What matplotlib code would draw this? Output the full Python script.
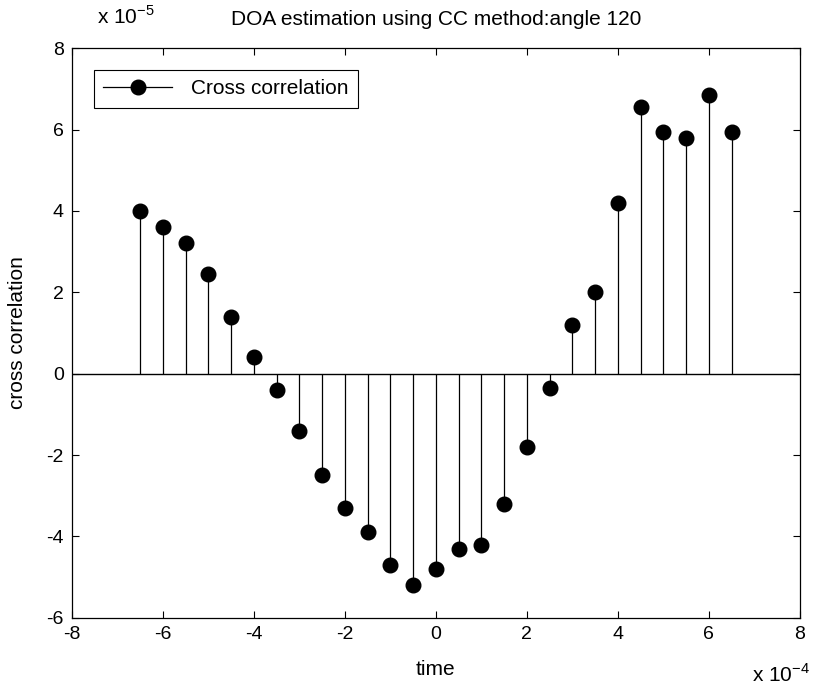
"""
DOA estimation - cross correlation stem plot (MATLAB style)
"""
import matplotlib
matplotlib.use('Agg')
import matplotlib.pyplot as plt
from matplotlib.legend_handler import HandlerLine2D
from matplotlib.lines import Line2D
import numpy as np

plt.rcParams['font.family'] = ['Liberation Sans', 'DejaVu Sans']

# time in units of 1e-4 s
time_e4 = [-6.5, -6.0, -5.5, -5.0, -4.5, -4.0, -3.5, -3.0, -2.5, -2.0, -1.5, -1.0, -0.5,
           0.0, 0.5, 1.0, 1.5, 2.0, 2.5, 3.0, 3.5, 4.0, 4.5, 5.0, 5.5, 6.0, 6.5]
# cross correlation in units of 1e-5
cc_e5 = [4.0, 3.6, 3.2, 2.45, 1.4, 0.4, -0.4, -1.4, -2.5, -3.3, -3.9, -4.7, -5.2,
         -4.8, -4.3, -4.2, -3.2, -1.8, -0.35, 1.2, 2.0, 4.2, 6.55, 5.95, 5.8, 6.85, 5.95]

xticks = [-8, -6, -4, -2, 0, 2, 4, 6, 8]
yticks = [-6, -4, -2, 0, 2, 4, 6, 8]


class EndMarker(HandlerLine2D):
    # marker at the right end of the legend line, like matlab stem legend
    def get_xdata(self, legend, xdescent, ydescent, width, height, fontsize):
        xdata, _ = super().get_xdata(legend, xdescent, ydescent, width, height, fontsize)
        return xdata, [xdata[-1] - 0.08 * width]


fig = plt.figure(figsize=(8.14, 6.88), dpi=100)
ax = fig.add_axes([0.0885, 0.102, 0.894, 0.828])

ax.vlines(time_e4, 0, cc_e5, colors='k', linewidth=0.9)
ax.plot(time_e4, cc_e5, 'o', color='k', markersize=10.5, linestyle='none')
ax.axhline(0, color='k', linewidth=1.0)

ax.set_xlim(-8, 8)
ax.set_ylim(-6, 8)
ax.set_xticks(xticks)
ax.set_yticks(yticks)
ax.set_xticklabels([str(t) for t in xticks])
ax.set_yticklabels([str(t) for t in yticks])
ax.tick_params(direction='in', top=True, right=True, length=5, width=0.8,
               labelsize=14, pad=6)
for s in ax.spines.values():
    s.set_linewidth(0.9)

ax.text(0.5, 1.05, 'DOA estimation using CC method:angle 120', transform=ax.transAxes,
        fontsize=15, ha='center', va='center')
ax.set_xlabel('time', fontsize=15)
ax.xaxis.set_label_coords(0.5, -0.074)
ax.set_ylabel('cross correlation', fontsize=15)
ax.yaxis.set_label_coords(-0.062, 0.5)

ax.text(0.034, 1.042, r'x 10$^{\mathregular{-5}}$', transform=ax.transAxes,
        fontsize=15, ha='left', va='baseline')
ax.text(1.014, -0.112, r'x 10$^{\mathregular{-4}}$', transform=ax.transAxes,
        fontsize=15, ha='right', va='baseline')

handle = Line2D([], [], color='k', marker='o', markersize=10.5, linewidth=0.9)
leg = ax.legend([handle], ['Cross correlation'], loc='upper left',
                handler_map={Line2D: EndMarker(numpoints=1)},
                fontsize=15, handlelength=3.3, handletextpad=0.9, fancybox=False,
                framealpha=1, edgecolor='k', borderaxespad=1.05, borderpad=0.45)
leg.get_frame().set_linewidth(0.8)

fig.savefig('out.png', dpi=100)
